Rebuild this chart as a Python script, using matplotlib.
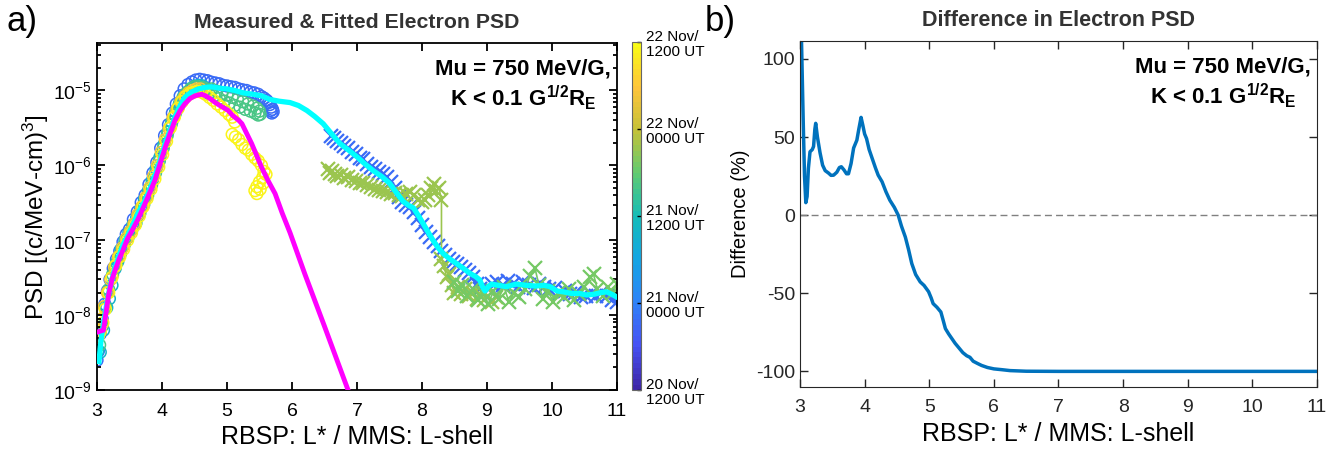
import numpy as np
import matplotlib
matplotlib.use('Agg')
import matplotlib.pyplot as plt
from matplotlib.colors import LinearSegmentedColormap, Normalize
from matplotlib.cm import ScalarMappable
from matplotlib.ticker import LogLocator, NullFormatter

plt.rcParams['font.family'] = ['Liberation Sans', 'DejaVu Sans']
plt.rcParams['mathtext.fontset'] = 'custom'
plt.rcParams['mathtext.rm'] = 'Liberation Sans'
plt.rcParams['mathtext.it'] = 'Liberation Sans:italic'
plt.rcParams['mathtext.bf'] = 'Liberation Sans:bold'
plt.rcParams['axes.unicode_minus'] = False

#%% data
# RBSP passes (circles): hours since 20 Nov 1200 UT
rbsp_a_t = 9
rbsp_a_L = [3.00, 3.02, 3.05, 3.08, 3.12, 3.16, 3.20, 3.25, 3.30, 3.35, 3.40, 3.45, 3.50, 3.56,
            3.62, 3.68, 3.74, 3.80, 3.86, 3.92, 3.98, 4.04, 4.10, 4.16, 4.22, 4.28, 4.34, 4.40,
            4.46, 4.52, 4.58, 4.64, 4.70, 4.76, 4.82, 4.88, 4.94, 5.00, 5.06, 5.12, 5.18, 5.24,
            5.30, 5.36, 5.42, 5.48, 5.53, 5.57, 5.61, 5.64, 5.66, 5.68, 5.70, 5.71, 5.69, 5.67]
rbsp_a_psd = [2.5e-9, 3.3e-9, 5.6e-9, 8.9e-9, 1.4e-8, 2.1e-8, 3.0e-8, 4.2e-8, 5.6e-8, 7.2e-8,
              9.5e-8, 1.2e-7, 1.4e-7, 1.9e-7, 2.4e-7, 3.2e-7, 4.0e-7, 5.6e-7, 7.9e-7, 1.1e-6,
              1.7e-6, 2.5e-6, 3.5e-6, 5.0e-6, 6.6e-6, 8.5e-6, 1.05e-5, 1.2e-5, 1.3e-5, 1.38e-5,
              1.41e-5, 1.38e-5, 1.35e-5, 1.29e-5, 1.26e-5, 1.23e-5, 1.17e-5, 1.15e-5, 1.12e-5,
              1.10e-5, 1.05e-5, 1.02e-5, 1.0e-5, 9.5e-6, 9.3e-6, 8.9e-6, 8.3e-6, 7.9e-6, 7.4e-6,
              6.9e-6, 6.5e-6, 6.0e-6, 5.6e-6, 5.2e-6, 5.0e-6, 5.4e-6]

rbsp_b_t = 21
rbsp_b_L = [3.01, 3.05, 3.10, 3.15, 3.19, 3.23, 3.28, 3.32, 3.37, 3.43, 3.49, 3.55, 3.61, 3.67,
            3.73, 3.79, 3.85, 3.91, 3.97, 4.03, 4.09, 4.15, 4.21, 4.27, 4.33, 4.39, 4.45, 4.51,
            4.57, 4.63]
rbsp_b_psd = [3.3e-9, 3.2e-9, 6.3e-9, 1.26e-8, 1.66e-8, 2.5e-8, 4.2e-8, 5.2e-8, 7.6e-8, 1.0e-7,
              1.26e-7, 1.6e-7, 2.0e-7, 2.6e-7, 3.5e-7, 4.6e-7, 6.3e-7, 9.1e-7, 1.3e-6, 1.9e-6,
              2.8e-6, 3.8e-6, 5.2e-6, 6.8e-6, 8.3e-6, 9.5e-6, 1.07e-5, 1.15e-5, 1.17e-5, 1.15e-5]

rbsp_c_t = 28
rbsp_c_L = [3.04, 3.08, 3.13, 3.18, 3.24, 3.30, 3.36, 3.42, 3.48, 3.54, 3.60, 3.66, 3.72, 3.78,
            3.84, 3.90, 3.96, 4.02, 4.08, 4.14, 4.20, 4.26, 4.32, 4.38, 4.44, 4.50, 4.56, 4.62,
            4.68, 4.72, 4.76, 4.80, 4.84, 4.88, 4.92, 4.96, 5.00, 5.04, 5.08, 5.12, 5.16, 5.20,
            5.24, 5.28, 5.32, 5.36, 5.40, 5.43, 5.46, 5.48, 5.50, 5.51]
rbsp_c_psd = [4.0e-9, 7.1e-9, 1.3e-8, 2.2e-8, 3.5e-8, 5.0e-8, 6.6e-8, 8.7e-8, 1.1e-7, 1.4e-7,
              1.7e-7, 2.3e-7, 3.0e-7, 4.0e-7, 5.5e-7, 7.9e-7, 1.15e-6, 1.7e-6, 2.5e-6, 3.5e-6,
              4.8e-6, 6.3e-6, 7.9e-6, 9.3e-6, 1.05e-5, 1.12e-5, 1.12e-5, 1.1e-5, 1.05e-5,
              9.1e-6, 1.05e-5, 8.5e-6, 9.8e-6, 7.8e-6, 9.1e-6, 7.2e-6, 8.7e-6, 6.8e-6, 8.1e-6,
              6.3e-6, 7.6e-6, 6.0e-6, 7.1e-6, 5.6e-6, 6.6e-6, 5.3e-6, 6.2e-6, 5.0e-6, 5.8e-6,
              4.7e-6, 5.3e-6, 4.8e-6]

rbsp_d_t = 41
rbsp_d_L = [3.03, 3.07, 3.11, 3.16, 3.21, 3.27, 3.33, 3.39, 3.45, 3.51, 3.57, 3.63, 3.69, 3.75,
            3.81, 3.87, 3.93, 3.99, 4.05, 4.11, 4.17, 4.23, 4.29, 4.35, 4.41, 4.47, 4.53, 4.59]
rbsp_d_psd = [6.3e-9, 8.9e-9, 1.3e-8, 2.0e-8, 3.0e-8, 4.4e-8, 6.0e-8, 7.9e-8, 1.05e-7, 1.3e-7,
              1.66e-7, 2.2e-7, 2.8e-7, 3.7e-7, 5.0e-7, 7.1e-7, 1.0e-6, 1.5e-6, 2.2e-6, 3.1e-6,
              4.3e-6, 5.6e-6, 7.1e-6, 8.3e-6, 9.3e-6, 1.0e-5, 1.05e-5, 1.05e-5]

rbsp_e_t = 46.5
rbsp_e_L = [3.02, 3.05, 3.09, 3.13, 3.18, 3.23, 3.29, 3.35, 3.41, 3.47, 3.53, 3.59, 3.65, 3.71,
            3.77, 3.83, 3.89, 3.95, 4.01, 4.07, 4.13, 4.19, 4.25, 4.31, 4.37, 4.43, 4.49, 4.55,
            4.61, 4.67, 4.73, 4.79, 4.85, 4.91, 4.97, 5.03, 5.08, 5.12, 5.08, 5.13, 5.18, 5.23,
            5.28, 5.33, 5.38, 5.43, 5.48, 5.53, 5.57, 5.55, 5.50, 5.46, 5.43, 5.46, 5.51, 5.56,
            5.60]
rbsp_e_psd = [5.2e-9, 6.0e-9, 7.9e-9, 1.2e-8, 2.0e-8, 3.2e-8, 4.6e-8, 6.0e-8, 7.6e-8, 1.0e-7,
              1.26e-7, 1.6e-7, 2.1e-7, 2.8e-7, 3.6e-7, 4.8e-7, 6.6e-7, 9.5e-7, 1.4e-6, 2.1e-6,
              3.2e-6, 4.4e-6, 5.8e-6, 7.1e-6, 8.3e-6, 9.1e-6, 9.5e-6, 9.8e-6, 9.5e-6, 8.9e-6,
              8.1e-6, 7.4e-6, 6.6e-6, 6.0e-6, 5.4e-6, 4.8e-6, 4.4e-6, 3.8e-6, 2.6e-6, 2.4e-6,
              2.2e-6, 1.9e-6, 1.7e-6, 1.6e-6, 1.4e-6, 1.26e-6, 1.15e-6, 1.0e-6, 8.3e-7, 6.9e-7,
              6.0e-7, 5.2e-7, 4.6e-7, 4.2e-7, 4.8e-7, 5.8e-7, 7.6e-7]

# MMS passes (crosses)
mms_a_t = 9
mms_a_L = [6.60, 6.65, 6.70, 6.75, 6.80, 6.86, 6.92, 6.98, 7.04, 7.10, 7.16, 7.22, 7.28, 7.34,
           7.40, 7.46, 7.52, 7.58, 7.64, 7.70, 7.76, 7.82, 7.88, 7.94, 8.00, 8.06, 8.12, 8.18,
           8.24, 8.30, 8.36, 8.42, 8.48, 8.54, 8.60, 8.66, 8.72, 8.78, 8.84, 8.90, 8.96, 9.02,
           9.08, 9.16, 9.24, 9.32, 9.40, 9.48, 9.56, 9.64, 9.72, 9.80, 9.88, 9.96, 10.04, 10.12,
           10.20, 10.28, 10.36, 10.44, 10.52, 10.60, 10.68, 10.76, 10.84, 10.92, 11.00]
mms_a_psd = [2.5e-6, 2.3e-6, 2.1e-6, 2.0e-6, 1.8e-6, 1.7e-6, 1.5e-6, 1.4e-6, 1.26e-6, 1.2e-6,
             1.05e-6, 9.5e-7, 8.9e-7, 8.1e-7, 7.6e-7, 6.9e-7, 6.0e-7, 5.0e-7, 3.8e-7, 3.2e-7,
             3.0e-7, 2.8e-7, 2.4e-7, 2.0e-7, 1.6e-7, 1.3e-7, 1.1e-7, 9.5e-8, 8.3e-8, 7.2e-8,
             6.3e-8, 5.6e-8, 5.2e-8, 4.8e-8, 4.4e-8, 4.0e-8, 3.6e-8, 3.2e-8, 2.6e-8, 2.2e-8,
             1.9e-8, 2.2e-8, 2.6e-8, 2.8e-8, 2.5e-8, 2.9e-8, 2.6e-8, 2.4e-8, 2.8e-8, 2.5e-8,
             2.3e-8, 2.6e-8, 2.4e-8, 2.2e-8, 2.3e-8, 2.0e-8, 2.1e-8, 1.9e-8, 2.0e-8, 1.75e-8,
             1.8e-8, 1.9e-8, 1.8e-8, 2.0e-8, 1.8e-8, 1.6e-8, 1.5e-8]

mms_b_t = 33
mms_b_L = [6.55, 6.58, 6.62, 6.66, 6.70, 6.75, 6.80, 6.86, 6.92, 6.98, 7.04, 7.10, 7.16, 7.22,
           7.28, 7.34, 7.40, 7.46, 7.52, 7.58, 7.64, 7.70, 7.76, 7.82, 7.88, 7.94, 8.00, 8.05,
           8.10, 8.14, 8.18, 8.22, 8.26, 8.30, 8.30, 8.34, 8.38, 8.42, 8.46, 8.50, 8.55, 8.60,
           8.66, 8.72, 8.78, 8.84, 8.90, 8.96, 9.02, 9.08, 9.14]
mms_b_psd = [8.9e-7, 7.9e-7, 8.3e-7, 7.6e-7, 7.2e-7, 7.4e-7, 6.8e-7, 6.9e-7, 6.3e-7, 6.2e-7,
             5.8e-7, 5.9e-7, 5.4e-7, 5.2e-7, 4.9e-7, 4.7e-7, 4.6e-7, 4.4e-7, 4.2e-7, 4.3e-7,
             4.0e-7, 3.9e-7, 4.2e-7, 4.4e-7, 4.0e-7, 3.5e-7, 3.2e-7, 3.5e-7, 4.0e-7, 5.0e-7,
             5.6e-7, 4.5e-7, 5.0e-7, 3.5e-7, 5.6e-8, 4.5e-8, 3.2e-8, 3.5e-8, 2.5e-8, 2.0e-8,
             2.4e-8, 1.9e-8, 2.2e-8, 1.8e-8, 2.0e-8, 1.66e-8, 1.9e-8, 1.6e-8, 1.8e-8, 1.5e-8,
             1.75e-8]

mms_c_t = 31
mms_c_L = [8.50, 8.56, 8.62, 8.70, 8.78, 8.86, 8.94, 9.02, 9.10, 9.18, 9.26, 9.34, 9.42, 9.50,
           9.58, 9.66, 9.74, 9.80, 9.86, 9.94, 10.02, 10.10, 10.18, 10.26, 10.34, 10.42, 10.50,
           10.58, 10.64, 10.70, 10.78, 10.86, 10.94, 11.00]
mms_c_psd = [2.8e-8, 2.1e-8, 2.5e-8, 1.8e-8, 2.2e-8, 1.6e-8, 2.0e-8, 1.4e-8, 2.1e-8, 1.66e-8,
             2.4e-8, 1.5e-8, 2.0e-8, 1.75e-8, 2.2e-8, 3.3e-8, 4.2e-8, 2.5e-8, 1.66e-8, 2.1e-8,
             1.5e-8, 2.0e-8, 1.75e-8, 2.2e-8, 1.6e-8, 1.9e-8, 2.4e-8, 3.2e-8, 3.5e-8, 2.2e-8,
             1.8e-8, 2.4e-8, 2.0e-8, 2.6e-8]

# fitted PSD (cyan) and fitted PSD from the model (magenta)
fit_L = [3.03, 3.06, 3.10, 3.15, 3.20, 3.26, 3.33, 3.40, 3.48, 3.56, 3.64, 3.74, 3.82, 3.92,
         4.00, 4.05, 4.12, 4.20, 4.28, 4.35, 4.45, 4.56, 4.66, 4.76, 4.90, 5.00, 5.12, 5.25,
         5.40, 5.53, 5.66, 5.80, 5.97, 6.10, 6.23, 6.35, 6.48, 6.60, 6.74, 6.87, 7.00, 7.12,
         7.25, 7.38, 7.50, 7.60, 7.71, 7.80, 7.87, 7.95, 8.02, 8.10, 8.17, 8.25, 8.33, 8.43,
         8.53, 8.64, 8.74, 8.82, 8.89, 8.93, 8.97, 9.02, 9.07, 9.18, 9.30, 9.45, 9.61, 9.75,
         9.88, 9.97, 10.08, 10.17, 10.30, 10.42, 10.53, 10.65, 10.75, 10.84, 10.94, 11.00]
fit_psd = [2.4e-9, 4.5e-9, 7.9e-9, 1.4e-8, 2.4e-8, 3.8e-8, 6.0e-8, 8.7e-8, 1.2e-7, 1.66e-7,
           2.4e-7, 3.4e-7, 5.0e-7, 8.5e-7, 1.4e-6, 1.95e-6, 2.9e-6, 4.4e-6, 6.3e-6, 8.1e-6,
           9.5e-6, 1.05e-5, 1.1e-5, 1.12e-5, 1.07e-5, 1.05e-5, 1.0e-5, 9.3e-6, 8.9e-6, 8.5e-6,
           7.6e-6, 7.2e-6, 6.9e-6, 6.3e-6, 5.4e-6, 4.5e-6, 3.6e-6, 2.7e-6, 1.95e-6, 1.6e-6,
           1.3e-6, 1.05e-6, 8.5e-7, 7.1e-7, 5.8e-7, 4.4e-7, 3.3e-7, 2.9e-7, 2.7e-7, 2.1e-7,
           1.66e-7, 1.26e-7, 1.0e-7, 7.9e-8, 6.6e-8, 5.6e-8, 4.9e-8, 4.2e-8, 3.6e-8, 3.3e-8,
           2.95e-8, 2.4e-8, 2.1e-8, 2.4e-8, 2.6e-8, 2.5e-8, 2.4e-8, 2.6e-8, 2.5e-8, 2.45e-8,
           2.5e-8, 2.4e-8, 2.1e-8, 2.05e-8, 1.95e-8, 1.95e-8, 1.86e-8, 1.9e-8, 2.0e-8, 2.05e-8,
           1.86e-8, 1.74e-8]

model_L = [3.02, 3.10, 3.14, 3.18, 3.23, 3.28, 3.34, 3.40, 3.47, 3.55, 3.63, 3.74, 3.82, 3.89,
           3.97, 4.05, 4.12, 4.20, 4.28, 4.35, 4.43, 4.51, 4.61, 4.67, 4.74, 4.82, 4.89, 4.96,
           5.02, 5.08, 5.12, 5.18, 5.23, 5.30, 5.38, 5.45, 5.53, 5.63, 5.74, 5.85, 5.97, 6.20,
           6.50, 6.85, 7.00]
model_psd = [6.0e-9, 6.3e-9, 1.1e-8, 1.9e-8, 3.0e-8, 4.0e-8, 5.6e-8, 7.4e-8, 1.05e-7, 1.4e-7,
             1.9e-7, 3.1e-7, 4.5e-7, 6.3e-7, 1.05e-6, 1.74e-6, 2.6e-6, 4.0e-6, 5.4e-6, 6.6e-6,
             7.8e-6, 8.5e-6, 8.9e-6, 8.5e-6, 7.8e-6, 6.9e-6, 6.3e-6, 5.8e-6, 5.4e-6, 4.7e-6,
             4.4e-6, 4.0e-6, 3.6e-6, 2.7e-6, 1.95e-6, 1.4e-6, 9.5e-7, 6.3e-7, 4.2e-7, 2.3e-7,
             1.26e-7, 3.5e-8, 7.1e-9, 1.07e-9, 4.7e-10]

# difference between the two (%)
diff_L = [3.00, 3.02, 3.05, 3.07, 3.09, 3.11, 3.13, 3.155, 3.19, 3.21, 3.23, 3.243, 3.27, 3.31,
          3.35, 3.39, 3.44, 3.48, 3.52, 3.57, 3.61, 3.64, 3.68, 3.72, 3.75, 3.79, 3.83, 3.88,
          3.91, 3.945, 3.97, 4.00, 4.03, 4.07, 4.12, 4.17, 4.21, 4.27, 4.33, 4.39, 4.46, 4.52,
          4.57, 4.63, 4.68, 4.73, 4.79, 4.86, 4.92, 4.99, 5.03, 5.06, 5.12, 5.18, 5.22, 5.25,
          5.30, 5.35, 5.40, 5.46, 5.52, 5.58, 5.63, 5.68, 5.75, 5.81, 5.90, 6.00, 6.12, 6.25,
          6.50, 7.00, 8.00, 9.00, 10.00, 11.00]
diff_pct = [160, 118, 60, 25, 8, 12, 30, 40.6, 42, 44, 55, 58.8, 50, 40, 32, 28.5, 27, 25.5,
            25.6, 27.5, 30.5, 31, 29, 26.5, 26.5, 33, 43, 48, 55, 62.6, 58, 52, 49, 42, 36, 30,
            25.6, 21.4, 15, 9.6, 5, 0, -7, -14, -22, -31, -38, -42.7, -45, -49, -53, -56.6, -59,
            -62, -68, -72.6, -76, -79, -82, -85, -88, -90, -91, -93.5, -95, -96.2, -97.5, -98.4,
            -98.9, -99.5, -99.9, -100, -100, -100, -100, -100]

psd_ticks = [1e-9, 1e-8, 1e-7, 1e-6, 1e-5]
cbar_ticks = [0, 12, 24, 36, 48]
cbar_labels = ['20 Nov/\n1200 UT', '21 Nov/\n0000 UT', '21 Nov/\n1200 UT',
               '22 Nov/\n0000 UT', '22 Nov/\n1200 UT']

#%% colormap (parula-like)
parula = LinearSegmentedColormap.from_list('parula', [
    (0.000, (0.2422, 0.1504, 0.6603)),
    (0.125, (0.2760, 0.3173, 0.9549)),
    (0.250, (0.1801, 0.5120, 0.9746)),
    (0.375, (0.0770, 0.6500, 0.8900)),
    (0.500, (0.0780, 0.7380, 0.7210)),
    (0.625, (0.3800, 0.7950, 0.4400)),
    (0.750, (0.7700, 0.7600, 0.2200)),
    (0.875, (0.9970, 0.7700, 0.2300)),
    (1.000, (0.9769, 0.9839, 0.0805))], N=64)
norm = Normalize(0, 48)

#%% figure
fig = plt.figure(figsize=(13.38, 4.5), dpi=100)
ax1 = fig.add_axes([0.0725, 0.1333, 0.3886, 0.771])
cax = fig.add_axes([0.4724, 0.1333, 0.0067, 0.7733])
ax2 = fig.add_axes([0.5979, 0.14, 0.3864, 0.7689])

for L, p, t in [(rbsp_a_L, rbsp_a_psd, rbsp_a_t), (rbsp_b_L, rbsp_b_psd, rbsp_b_t),
                (rbsp_c_L, rbsp_c_psd, rbsp_c_t), (rbsp_d_L, rbsp_d_psd, rbsp_d_t),
                (rbsp_e_L, rbsp_e_psd, rbsp_e_t)]:
    ax1.scatter(L, p, s=72, facecolors='none', edgecolors=[parula(norm(t))], linewidths=1.1)

for L, p, t in [(mms_a_L, mms_a_psd, mms_a_t), (mms_b_L, mms_b_psd, mms_b_t),
                (mms_c_L, mms_c_psd, mms_c_t)]:
    ax1.plot(L, p, '-x', color=parula(norm(t)), ms=10, mew=1.6, lw=1.2)

ax1.plot(fit_L, fit_psd, color='cyan', lw=3.8, zorder=5)
ax1.plot(model_L, model_psd, color='magenta', lw=3.5, zorder=6)

ax1.set_yscale('log')
ax1.set_xlim(3, 11)
ax1.set_ylim(1e-9, 4.3e-5)
ax1.set_xticks(range(3, 12))
ax1.set_yticks(psd_ticks)
ax1.yaxis.set_minor_locator(LogLocator(base=10, subs=np.arange(2, 10), numticks=10))
ax1.yaxis.set_minor_formatter(NullFormatter())
ax1.tick_params(which='both', direction='in', top=True, right=True, labelsize=14, width=1.3)
ax1.tick_params(which='major', length=6)
ax1.tick_params(which='minor', length=3)
ax1.tick_params(axis='x', pad=9)
for s in ax1.spines.values():
    s.set_linewidth(1.3)
ax1.set_xlabel('RBSP: L* / MMS: L-shell', fontsize=18, labelpad=4)
ax1.set_ylabel('PSD [(c/MeV-cm)$^3$]', fontsize=17.5, labelpad=2)
ax1.set_title('Measured & Fitted Electron PSD', fontsize=15.3, fontweight='bold',
              color='0.2', pad=11)
ax1.text(0.988, 0.955, 'Mu = 750 MeV/G,\nK < 0.1 G$^{\\mathbf{1/2}}$R$_{\\mathbf{E}}$',
         transform=ax1.transAxes, ha='right', va='top', multialignment='center',
         fontsize=16, fontweight='bold', linespacing=1.15)

cb = fig.colorbar(ScalarMappable(norm=norm, cmap=parula), cax=cax, ticks=cbar_ticks)
cb.ax.set_yticklabels(cbar_labels, fontsize=11, linespacing=1.1)
cb.ax.tick_params(direction='in', length=3, width=1)
cb.outline.set_edgecolor('0.4')
cb.outline.set_linewidth(0.8)

# right panel
ax2.plot(diff_L, diff_pct, color=(0, 0.447, 0.741), lw=2.5)
ax2.axhline(0, color='0.5', ls='--', lw=1, dashes=(5, 3))
ax2.set_xlim(3, 11)
ax2.set_ylim(-110, 111.5)
ax2.set_xticks(range(3, 12))
ax2.set_yticks([-100, -50, 0, 50, 100])
ax2.tick_params(direction='in', top=True, right=True, labelsize=14, length=6, width=1,
                colors='0.15')
ax2.tick_params(axis='x', pad=9)
for s in ax2.spines.values():
    s.set_color('0.15')
ax2.set_xlabel('RBSP: L* / MMS: L-shell', fontsize=18, labelpad=4)
ax2.set_ylabel('Difference (%)', fontsize=14.5)
ax2.set_title('Difference in Electron PSD', fontsize=15.5, fontweight='bold',
              color='0.2', pad=11)
ax2.text(0.988, 0.955, 'Mu = 750 MeV/G,\nK < 0.1 G$^{\\mathbf{1/2}}$R$_{\\mathbf{E}}$',
         transform=ax2.transAxes, ha='right', va='top', multialignment='center',
         fontsize=16, fontweight='bold', linespacing=1.15)

fig.text(0.005, 0.99, 'a)', fontsize=25, va='top')
fig.text(0.527, 0.99, 'b)', fontsize=25, va='top')

fig.savefig('out.png', dpi=100)
